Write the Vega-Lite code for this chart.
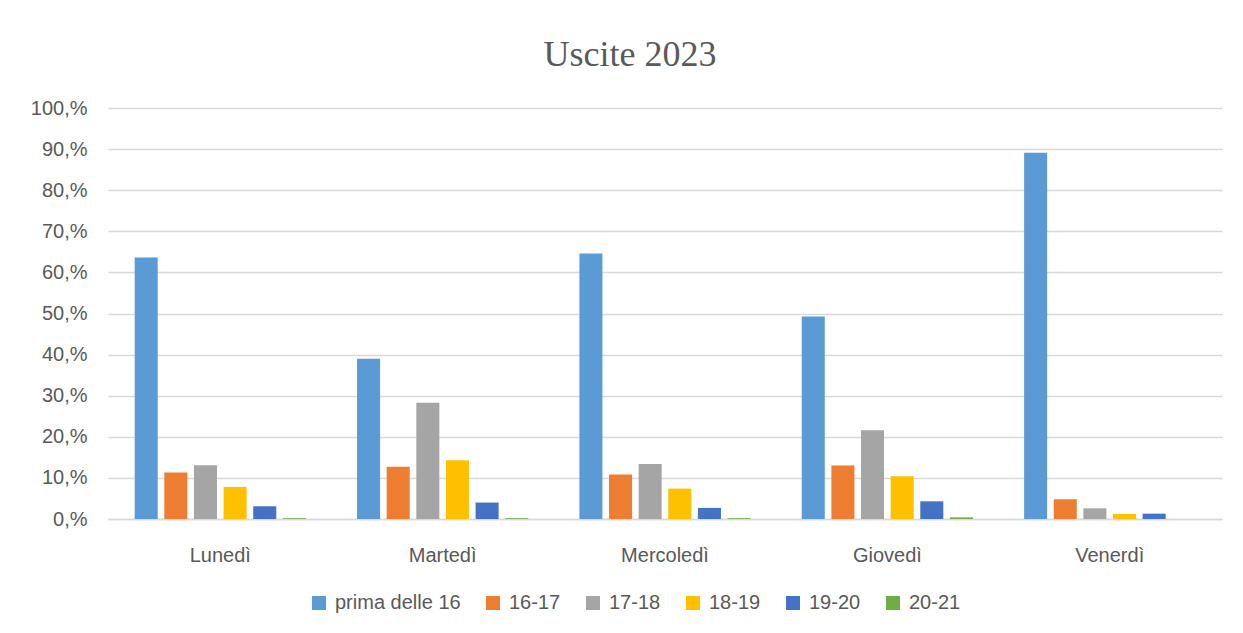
{
  "$schema": "https://vega.github.io/schema/vega-lite/v6.json",
  "autosize": {"type": "none"},
  "width": 1114,
  "height": 411,
  "padding": {"left": 108, "top": 108, "right": 21, "bottom": 114},
  "background": "white",
  "title": {
    "text": "Uscite 2023",
    "font": "Liberation Serif",
    "fontSize": 36,
    "fontWeight": "normal",
    "color": "#595959",
    "anchor": "middle",
    "baseline": "alphabetic",
    "offset": 20,
    "dx": -35,
    "dy": 24
  },
  "data": {
    "values": [
      {"giorno": "Lunedì", "fascia": "prima delle 16", "valore": 63.6},
      {"giorno": "Lunedì", "fascia": "16-17", "valore": 11.3},
      {"giorno": "Lunedì", "fascia": "17-18", "valore": 13.1},
      {"giorno": "Lunedì", "fascia": "18-19", "valore": 7.8},
      {"giorno": "Lunedì", "fascia": "19-20", "valore": 3.1},
      {"giorno": "Lunedì", "fascia": "20-21", "valore": 0.2},
      {"giorno": "Martedì", "fascia": "prima delle 16", "valore": 39.0},
      {"giorno": "Martedì", "fascia": "16-17", "valore": 12.7},
      {"giorno": "Martedì", "fascia": "17-18", "valore": 28.3},
      {"giorno": "Martedì", "fascia": "18-19", "valore": 14.3},
      {"giorno": "Martedì", "fascia": "19-20", "valore": 4.0},
      {"giorno": "Martedì", "fascia": "20-21", "valore": 0.2},
      {"giorno": "Mercoledì", "fascia": "prima delle 16", "valore": 64.6},
      {"giorno": "Mercoledì", "fascia": "16-17", "valore": 10.8},
      {"giorno": "Mercoledì", "fascia": "17-18", "valore": 13.4},
      {"giorno": "Mercoledì", "fascia": "18-19", "valore": 7.4},
      {"giorno": "Mercoledì", "fascia": "19-20", "valore": 2.7},
      {"giorno": "Mercoledì", "fascia": "20-21", "valore": 0.2},
      {"giorno": "Giovedì", "fascia": "prima delle 16", "valore": 49.3},
      {"giorno": "Giovedì", "fascia": "16-17", "valore": 13.0},
      {"giorno": "Giovedì", "fascia": "17-18", "valore": 21.6},
      {"giorno": "Giovedì", "fascia": "18-19", "valore": 10.4},
      {"giorno": "Giovedì", "fascia": "19-20", "valore": 4.3},
      {"giorno": "Giovedì", "fascia": "20-21", "valore": 0.4},
      {"giorno": "Venerdì", "fascia": "prima delle 16", "valore": 89.1},
      {"giorno": "Venerdì", "fascia": "16-17", "valore": 4.8},
      {"giorno": "Venerdì", "fascia": "17-18", "valore": 2.6},
      {"giorno": "Venerdì", "fascia": "18-19", "valore": 1.2},
      {"giorno": "Venerdì", "fascia": "19-20", "valore": 1.3},
      {"giorno": "Venerdì", "fascia": "20-21", "valore": 0.0}
    ]
  },
  "mark": {"type": "bar"},
  "encoding": {
    "x": {
      "field": "giorno",
      "type": "nominal",
      "sort": ["Lunedì", "Martedì", "Mercoledì", "Giovedì", "Venerdì"],
      "scale": {"paddingInner": 0.23, "paddingOuter": 0.12},
      "axis": {
        "title": null,
        "labelAngle": 0,
        "ticks": false,
        "domainColor": "#d9d9d9",
        "domainWidth": 1.5,
        "labelFont": "Liberation Sans",
        "labelFontSize": 20,
        "labelColor": "#595959",
        "labelPadding": 26,
        "grid": false
      }
    },
    "xOffset": {
      "field": "fascia",
      "type": "nominal",
      "sort": ["prima delle 16", "16-17", "17-18", "18-19", "19-20", "20-21"],
      "scale": {"paddingInner": 0.223, "paddingOuter": 0}
    },
    "y": {
      "field": "valore",
      "type": "quantitative",
      "scale": {"domain": [0, 100], "nice": false},
      "axis": {
        "title": null,
        "values": [0, 10, 20, 30, 40, 50, 60, 70, 80, 90, 100],
        "labelExpr": "datum.value + ',%'",
        "domain": false,
        "ticks": false,
        "gridColor": "#d9d9d9",
        "gridWidth": 1.5,
        "labelFont": "Liberation Sans",
        "labelFontSize": 20,
        "labelColor": "#595959",
        "labelPadding": 21
      }
    },
    "color": {
      "field": "fascia",
      "type": "nominal",
      "sort": ["prima delle 16", "16-17", "17-18", "18-19", "19-20", "20-21"],
      "scale": {
        "domain": ["prima delle 16", "16-17", "17-18", "18-19", "19-20", "20-21"],
        "range": ["#5B9BD5", "#ED7D31", "#A5A5A5", "#FFC000", "#4472C4", "#70AD47"]
      },
      "legend": {
        "title": null,
        "orient": "none",
        "legendX": 201,
        "legendY": 485,
        "direction": "horizontal",
        "symbolType": "square",
        "symbolSize": 196,
        "symbolStrokeWidth": 0,
        "labelFont": "Liberation Sans",
        "labelFontSize": 20,
        "labelColor": "#595959",
        "labelOffset": 6,
        "columnPadding": 22
      }
    }
  },
  "config": {
    "view": {"stroke": null}
  }
}
